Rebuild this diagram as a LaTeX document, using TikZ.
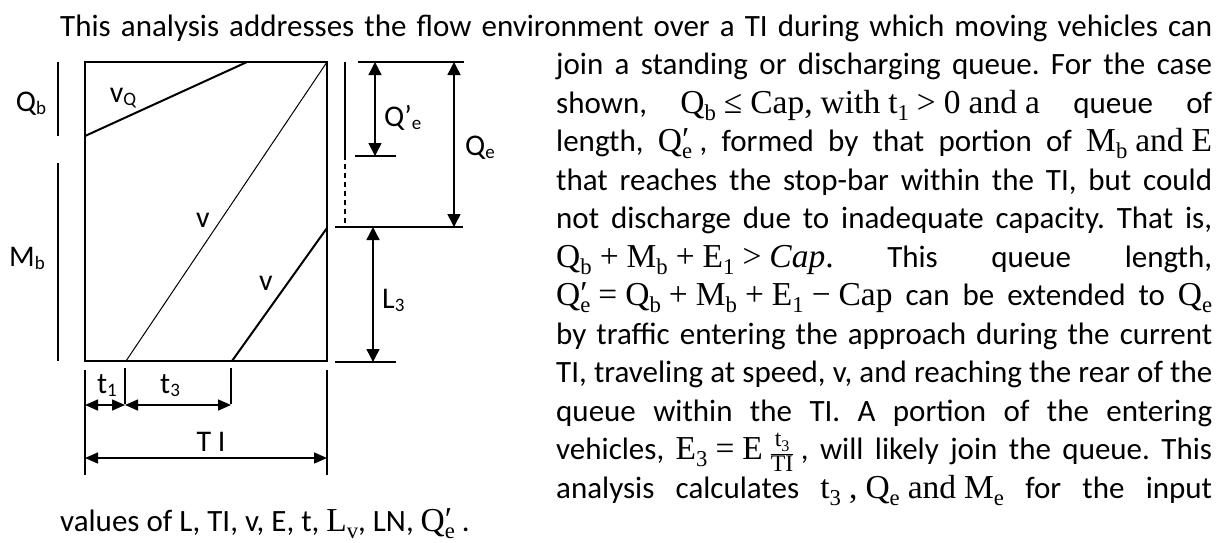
\documentclass[tikz,border=0pt]{standalone}
\usepackage{fontspec}
\setmainfont{Carlito}
\newfontfamily\mf[Scale=1.08]{Liberation Serif}
\usetikzlibrary{arrows.meta}
\frenchspacing
\newcommand\sbs[1]{\raisebox{-0.12em}{\fontsize{19}{19}\selectfont #1}}
\newcommand\msb[1]{\raisebox{-0.22em}{\fontsize{21}{21}\selectfont #1}}
\newcommand\fs{\hspace{0.24em}}
\newcommand\Qpr{Q\makebox[0pt][l]{\raisebox{0.02em}{′}}\msb{e}}
\newcommand\myfrac[2]{{\fontsize{22}{24}\selectfont\setlength\tabcolsep{0pt}\begin{tabular}{c}#1\\\hline #2\end{tabular}}}
\begin{document}
\begin{tikzpicture}[x=1pt,y=-1pt,
  txt/.style={anchor=base west, inner sep=0pt, font=\fontsize{31}{38}\selectfont},
  lbl/.style={anchor=base, inner sep=0pt, font=\fontsize{30}{30}\selectfont},
  lblw/.style={anchor=base west, inner sep=0pt, font=\fontsize{30}{30}\selectfont},
  frame/.style={line width=2pt},
  bar/.style={line width=1.6pt},
  dim/.style={line width=1.5pt},
  dimarr/.style={dim, {Triangle[length=13pt,width=13pt]}-{Triangle[length=13pt,width=13pt]}},
  tarr/.style={dim, {Triangle[length=13pt,width=11pt]}-{Triangle[length=13pt,width=11pt]}},
  thinln/.style={line width=1pt},
  thickln/.style={line width=2pt}]
\useasboundingbox (0,0) rectangle (1226,542);

% ---------------- text ----------------
\node[txt] (l1) at (60,36) {\makebox[1152pt][s]{This analysis addresses the flow environment over a TI during which moving vehicles can}};
\node[txt] (l2) at (556,74.5) {\makebox[656pt][s]{join a standing or discharging queue. For the case}};
\node[txt] (l3) at (556,113) {\makebox[656pt][s]{shown, {\mf Q\msb{b}\fs≤\fs Cap,\fs with\fs t\msb{1}\fs>\fs0\fs and\fs a} queue of}};
\node[txt] (l4) at (556,151.5) {\makebox[656pt][s]{length, {\mf\Qpr}\fs, formed by that portion of {\mf M\msb{b}\fs and\fs E}}};
\node[txt] (l5) at (556,190) {\makebox[656pt][s]{that reaches the stop-bar within the TI, but could}};
\node[txt] (l6) at (556,228.5) {\makebox[656pt][s]{not discharge due to inadequate capacity. That is,}};
\node[txt] (l7) at (556,267) {\makebox[656pt][s]{{\mf Q\msb{b}\fs+\fs M\msb{b}\fs+\fs E\msb{1}\fs>\fs{\itshape Cap}.} This queue length,}};
\node[txt] (l8) at (556,305.5) {\makebox[656pt][s]{{\mf\Qpr\fs=\fs Q\msb{b}\fs+\fs M\msb{b}\fs+\fs E\msb{1}\fs−\fs Cap} can be extended to {\mf Q\msb{e}}}};
\node[txt] (l9) at (556,344) {\makebox[656pt][s]{by traffic entering the approach during the current}};
\node[txt] (l10) at (556,382.5) {\makebox[656pt][s]{TI, traveling at speed, v, and reaching the rear of the}};
\node[txt] (l11) at (556,421) {\makebox[656pt][s]{queue within the TI. A portion of the entering}};
\node[txt] (l12) at (556,459.5) {\makebox[656pt][s]{vehicles, {\mf E\msb{3}\fs=\fs E\fs\myfrac{t\raisebox{-0.2em}{\fontsize{15}{15}\selectfont 3}}{TI}}\fs, will likely join the queue. This}};
\node[txt] (l13) at (556,498) {\makebox[656pt][s]{analysis calculates {\mf t\msb{3}\fs,\fs Q\msb{e}\fs and\fs M\msb{e}} for the input}};
\node[txt] (l14) at (60,531) {values of L, TI, v, E, t, {\mf L\msb{v}}, LN, {\mf\Qpr} .};

% ---------------- diagram ----------------
\coordinate (bTL) at (85,62);
\coordinate (bTR) at (327,62);
\coordinate (bBR) at (327,361);
\coordinate (bBL) at (85,361);
\draw[frame] (bTL) rectangle (bBR);

\coordinate (vq1) at (85,136);
\coordinate (vq2) at (247,62);
\draw[thickln] (vq1) -- (vq2);
\coordinate (v1a) at (126,361);
\draw[thinln] (v1a) -- (bTR);
\coordinate (v2a) at (232,361);
\coordinate (v2b) at (327,228);
\draw[thickln] (v2a) -- (v2b);

\node[lbl] (vQl) at (123,102) {v\sbs{Q}};
\node[lbl] (v1l) at (203,227) {v};
\node[lbl] (v2l) at (266,290) {v};

% left bars
\coordinate (qb1) at (58,62);
\coordinate (qb2) at (58,136);
\draw[bar] (qb1) -- (qb2);
\coordinate (mb1) at (58,163);
\coordinate (mb2) at (58,361);
\draw[bar] (mb1) -- (mb2);
\node[lbl] (Qbl) at (31,111) {Q\sbs{b}};
\node[lbl] (Mbl) at (27,266) {M\sbs{b}};

% right dimensions
\coordinate (rv1) at (345,62);
\coordinate (rv2) at (345,155);
\coordinate (rv3) at (345,227);
\draw[bar] (rv1) -- (rv2);
\draw[bar, dash pattern=on 5pt off 4pt] (rv2) -- (rv3);
\coordinate (th1) at (358,62);
\coordinate (th2) at (464,62);
\draw[dim] (th1) -- (th2);
\coordinate (qa1) at (375,62);
\coordinate (qa2) at (375,156);
\draw[dimarr] (qa1) -- (qa2);
\coordinate (tk1) at (355,156);
\coordinate (tk2) at (396,156);
\draw[dim] (tk1) -- (tk2);
\coordinate (qe1) at (454,62);
\coordinate (qe2) at (454,227);
\draw[dimarr] (qe1) -- (qe2);
\coordinate (m1) at (335,227);
\coordinate (m2) at (463,227);
\draw[dim] (m1) -- (m2);
\coordinate (la1) at (373,227);
\coordinate (la2) at (373,362);
\draw[dimarr] (la1) -- (la2);
\coordinate (bb1) at (335,362);
\coordinate (bb2) at (396,362);
\draw[dim] (bb1) -- (bb2);
\node[lblw] (Qpl) at (384,126) {Q’\sbs{e}};
\node[lblw] (Qel) at (465,155) {Q\sbs{e}};
\node[lblw] (L3l) at (382,308) {L\sbs{3}};

% bottom dimensions
\coordinate (k1a) at (85,370);
\coordinate (k1b) at (85,475);
\coordinate (k2a) at (327,370);
\coordinate (k2b) at (327,475);
\coordinate (k3a) at (125,368);
\coordinate (k3b) at (125,404);
\coordinate (k4a) at (231,368);
\coordinate (k4b) at (231,404);
\draw[bar] (k1a) -- (k1b);
\draw[bar] (k2a) -- (k2b);
\draw[bar] (k3a) -- (k3b);
\draw[bar] (k4a) -- (k4b);
\coordinate (ta1) at (85,405);
\coordinate (ta2) at (125,405);
\coordinate (ta3) at (231,405);
\draw[tarr] (ta1) -- (ta2);
\draw[tarr] (ta2) -- (ta3);
\coordinate (ti1) at (85,458);
\coordinate (ti2) at (327,458);
\draw[tarr] (ti1) -- (ti2);
\node[lblw] (t1l) at (97,393) {t\sbs{1}};
\node[lblw] (t3l) at (160,393) {t\sbs{3}};
\node[lbl] (TIl) at (211,451) {T I};
\end{tikzpicture}
\end{document}
